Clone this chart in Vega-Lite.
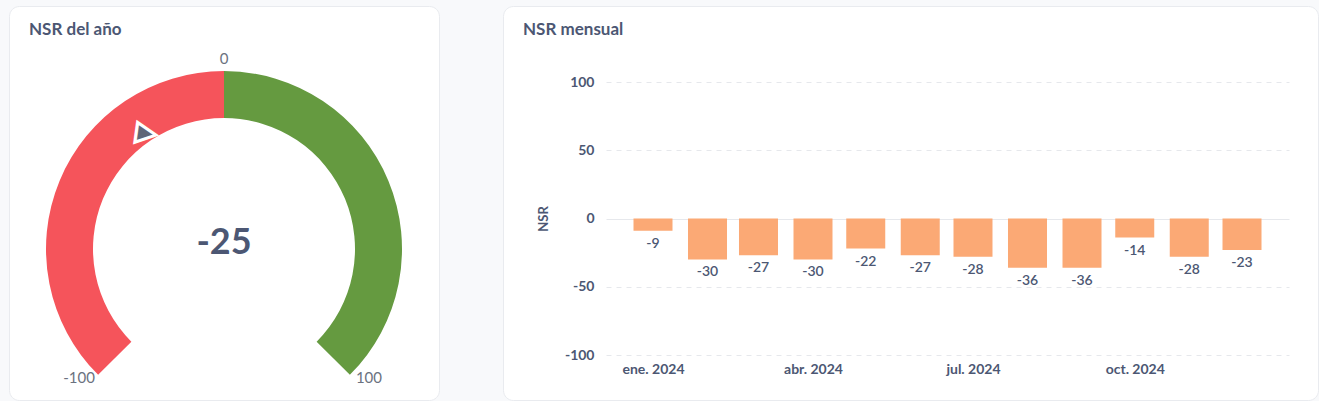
{
  "$schema": "https://vega.github.io/schema/vega-lite/v6.json",
  "background": "#f8f9fb",
  "padding": {"left": 8, "top": 5, "right": 0, "bottom": 0},
  "bounds": "flush",
  "config": {
    "font": "Lato",
    "view": {"fill": "white", "stroke": "#e9ebef", "cornerRadius": 10},
    "concat": {"spacing": 64}
  },
  "hconcat": [
    {
      "width": 430,
      "height": 394,
      "title": {"text": "NSR del año", "anchor": "start", "frame": "group", "orient": "top", "offset": -46, "baseline": "alphabetic", "dx": 20, "fontSize": 17, "fontWeight": "bold", "color": "#4c5773"},
      "encoding": {
        "x": {"datum": 0, "type": "quantitative", "scale": {"domain": [-215, 215], "nice": false, "zero": false}, "axis": null},
        "y": {"datum": 0, "type": "quantitative", "scale": {"domain": [-151, 243], "nice": false, "zero": false}, "axis": null}
      },
      "layer": [
        {
          "data": {"values": [
            {"segmento": "negativo", "desde": -100, "hasta": 0},
            {"segmento": "positivo", "desde": 0, "hasta": 100}
          ]},
          "mark": {"type": "arc", "radius": 178, "radius2": 131},
          "encoding": {
            "theta": {"field": "desde", "type": "quantitative", "stack": null, "scale": {"domain": [-100, 100], "range": [-2.35619, 2.35619], "zero": false, "nice": false}},
            "theta2": {"field": "hasta"},
            "color": {"field": "segmento", "type": "nominal", "scale": {"domain": ["negativo", "positivo"], "range": ["#f5545b", "#659a40"]}, "legend": null}
          }
        },
        {
          "data": {"values": [{"valor": -25}]},
          "mark": {"type": "text", "text": "▶", "radius": 140, "fontSize": 26, "align": "center", "baseline": "middle", "angle": 8, "color": "#5f6678", "stroke": "white", "strokeWidth": 3, "font": "DejaVu Sans"},
          "encoding": {
            "theta": {"field": "valor", "type": "quantitative", "stack": null, "scale": {"domain": [-100, 100], "range": [-2.35619, 2.35619], "zero": false, "nice": false}}
          }
        },
        {
          "data": {"values": [{"marca": -100, "etiqueta": "-100"}, {"marca": 100, "etiqueta": "100"}]},
          "mark": {"type": "text", "radius": 205, "dy": -16, "fontSize": 15, "align": "center", "baseline": "middle", "color": "#6b7280"},
          "encoding": {
            "theta": {"field": "marca", "type": "quantitative", "stack": null, "scale": {"domain": [-100, 100], "range": [-2.35619, 2.35619], "zero": false, "nice": false}},
            "text": {"field": "etiqueta"}
          }
        },
        {
          "data": {"values": [{"marca": 0, "etiqueta": "0"}]},
          "mark": {"type": "text", "radius": 190, "fontSize": 15, "align": "center", "baseline": "middle", "color": "#6b7280"},
          "encoding": {
            "theta": {"field": "marca", "type": "quantitative", "stack": null, "scale": {"domain": [-100, 100], "range": [-2.35619, 2.35619], "zero": false, "nice": false}},
            "text": {"field": "etiqueta"}
          }
        },
        {
          "data": {"values": [{"valor": -25}]},
          "mark": {"type": "text", "fontSize": 36, "fontWeight": "bold", "align": "center", "baseline": "middle", "dy": -6, "color": "#4c5773"},
          "encoding": {
            "text": {"field": "valor", "type": "nominal"}
          }
        }
      ]
    },
    {
      "width": 815,
      "height": 394,
      "title": {"text": "NSR mensual", "anchor": "start", "frame": "group", "orient": "top", "offset": -46, "baseline": "alphabetic", "dx": 20, "fontSize": 17, "fontWeight": "bold", "color": "#4c5773"},
      "data": {"values": [
        {"mes": "2024-01-01", "nsr": -9},
        {"mes": "2024-02-01", "nsr": -30},
        {"mes": "2024-03-01", "nsr": -27},
        {"mes": "2024-04-01", "nsr": -30},
        {"mes": "2024-05-01", "nsr": -22},
        {"mes": "2024-06-01", "nsr": -27},
        {"mes": "2024-07-01", "nsr": -28},
        {"mes": "2024-08-01", "nsr": -36},
        {"mes": "2024-09-01", "nsr": -36},
        {"mes": "2024-10-01", "nsr": -14},
        {"mes": "2024-11-01", "nsr": -28},
        {"mes": "2024-12-01", "nsr": -23}
      ]},
      "encoding": {
        "x": {
          "field": "mes", "type": "temporal",
          "scale": {"type": "utc", "range": [103, 786], "padding": 47, "nice": false},
          "axis": {
            "orient": "bottom", "offset": -46, "domain": false, "ticks": false, "grid": false,
            "values": [
              {"year": 2024, "month": 1, "date": 1, "utc": true},
              {"year": 2024, "month": 4, "date": 1, "utc": true},
              {"year": 2024, "month": 7, "date": 1, "utc": true},
              {"year": 2024, "month": 10, "date": 1, "utc": true}
            ],
            "labelExpr": "['ene.','feb.','mar.','abr.','may.','jun.','jul.','ago.','sept.','oct.','nov.','dic.'][utcmonth(datum.value)] + ' ' + utcyear(datum.value)",
            "labelPadding": 8, "labelFontSize": 14, "labelFontWeight": "bold", "labelColor": "#4c5773",
            "title": null
          }
        },
        "y": {
          "field": "nsr", "type": "quantitative",
          "scale": {"domain": [-100, 100], "range": [349, 76], "nice": false},
          "axis": {
            "orient": "left", "offset": -103, "domain": false, "ticks": false,
            "values": [-100, -50, 0, 50, 100],
            "labelExpr": "datum.value + ''",
            "grid": true, "gridColor": "#e6e8ec",
            "gridDash": {"condition": {"test": "datum.value === 0", "value": []}, "value": [5, 5]},
            "labelPadding": 12, "labelFontSize": 14, "labelFontWeight": "bold", "labelColor": "#4c5773",
            "title": "NSR", "titleFontSize": 13, "titleFontWeight": "bold", "titleColor": "#4c5773", "titlePadding": 14
          }
        }
      },
      "layer": [
        {"mark": {"type": "bar", "size": 39, "color": "#fba975"}},
        {
          "mark": {"type": "text", "baseline": "top", "dy": 6, "fontSize": 14, "fontWeight": 600, "color": "#4c5773"},
          "encoding": {"text": {"field": "nsr", "type": "nominal"}}
        }
      ]
    }
  ]
}
